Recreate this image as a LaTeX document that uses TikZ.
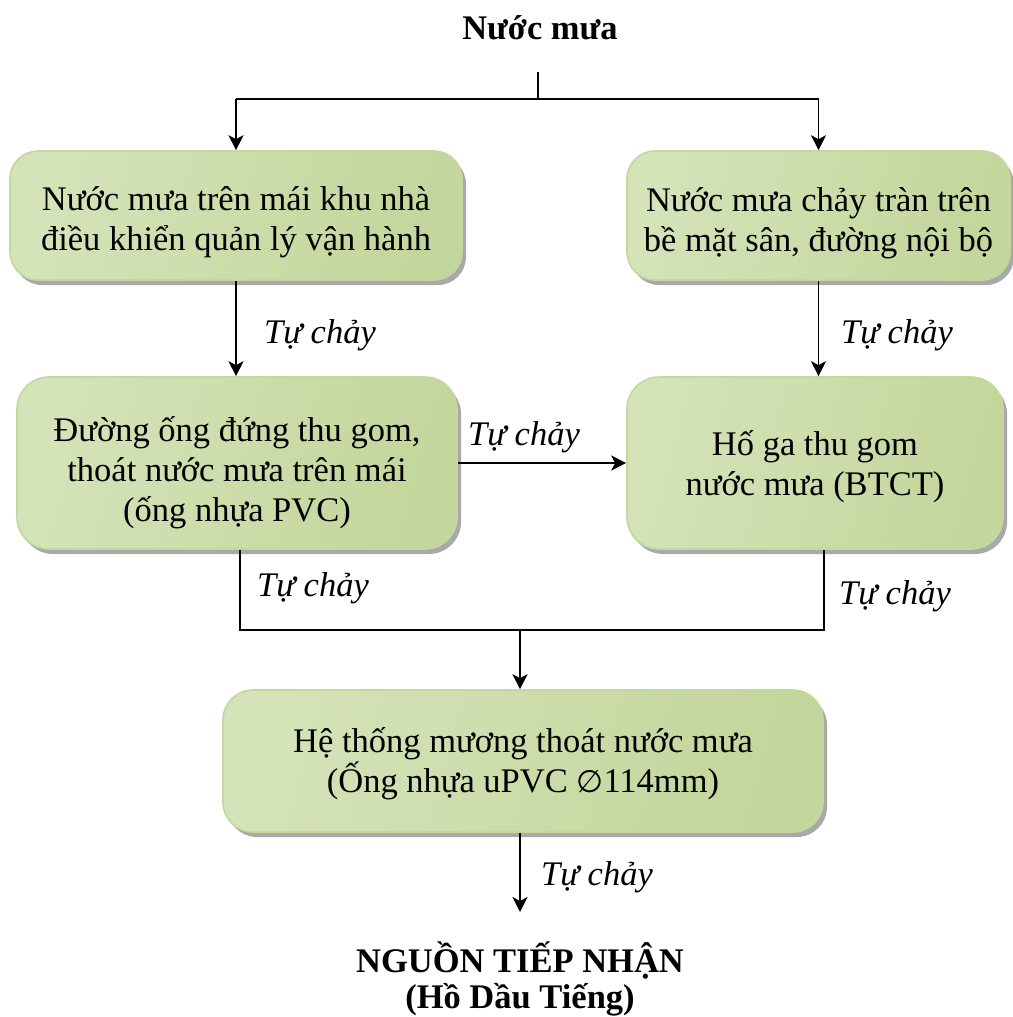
\documentclass[tikz,border=0pt]{standalone}
\usepackage{fontspec}
\setmainfont{Liberation Serif}
\newfontfamily\symbolfont{DejaVu Sans}
\usetikzlibrary{arrows.meta,shadows}

\definecolor{boxedge}{HTML}{C4D79E}
\definecolor{boxside}{HTML}{D5E3B9}
\definecolor{boxmid}{HTML}{EDF3E2}
\definecolor{boxdark}{HTML}{C3D69B}
\definecolor{shadowgray}{HTML}{8C8C8C}

\begin{document}
\begin{tikzpicture}[x=1pt,y=-1pt,
  procbox/.style={rounded corners=28pt, draw=boxedge, line width=1.6pt,
    left color=boxside, middle color=boxmid, right color=boxdark, shading angle=75,
    drop shadow={shadow xshift=4pt, shadow yshift=-5pt, fill=shadowgray, opacity=0.75},
    inner sep=0pt},
  boxtext/.style={align=center, inner sep=0pt, font=\fontsize{34.5}{40}\selectfont},
  flowlabel/.style={font=\fontsize{34.5}{40}\selectfont\itshape, inner sep=0pt},
  heading/.style={font=\fontsize{34.5}{36}\selectfont\bfseries, align=center, inner sep=0pt},
  wire/.style={line width=1.8pt, draw=black},
  arr/.style={wire, -{Stealth[length=15pt, width=15pt, inset=4pt]}}]

\useasboundingbox (0,0) rectangle (1012,1017);

% source
\node[heading] (title) at (540,28) {Nước mưa};
\coordinate (split) at (538,99);

% roof and yard runoff
\node[procbox, minimum width=452pt, minimum height=129pt] (roof) at (236,215.5) {};
\node[boxtext] (rooftext) at ([yshift=-7pt]roof.center)
  {Nước mưa trên mái khu nhà\\điều khiển quản lý vận hành};
\node[procbox, minimum width=383pt, minimum height=129pt] (yard) at (818.5,215.5) {};
\node[boxtext] (yardtext) at ([yshift=-8pt]yard.center)
  {Nước mưa chảy tràn trên\\bề mặt sân, đường nội bộ};

% collection
\node[procbox, rounded corners=32pt, minimum width=440pt, minimum height=172pt] (pipe) at (237,463) {};
\node[boxtext] (pipetext) at ([yshift=-10pt]pipe.center)
  {Đường ống đứng thu gom,\\thoát nước mưa trên mái\\(ống nhựa PVC)};
\node[procbox, rounded corners=32pt, minimum width=376pt, minimum height=172pt] (pit) at (815,463) {};
\node[boxtext] (pittext) at ([yshift=-4pt]pit.center)
  {Hố ga thu gom\\nước mưa (BTCT)};

% drainage
\node[procbox, rounded corners=30pt, minimum width=600pt, minimum height=142pt] (drain) at (523,761) {};
\node[boxtext] (draintext) at ([yshift=-3pt]drain.center)
  {Hệ thống mương thoát nước mưa\\(Ống nhựa uPVC {\symbolfont\fontsize{31}{40}\selectfont ∅}114mm)};

% receiving water
\node[heading] (sink) at (520,979) {NGUỒN TIẾP NHẬN\\(Hồ Dầu Tiếng)};

\coordinate (merge) at (520,630);
\coordinate (outlet) at (520,912);

% split of the rainwater
\draw[wire] ([yshift=-32pt]title.south -| split) -- (split);
\draw[wire] (roof.north |- split) -- (yard.north |- split);
\draw[arr] (roof.north |- split) -- (roof.north);
\draw[arr] (yard.north |- split) -- (yard.north);

% gravity flows
\draw[arr] (roof.south) -- (roof.south |- pipe.north);
\draw[arr] (yard.south) -- (yard.south |- pit.north);
\draw[arr] (pipe.east) -- (pipe.east -| pit.west);
\draw[wire] ([xshift=3pt]pipe.south) -- ([xshift=3pt]pipe.south |- merge)
  -- ([xshift=9pt]pit.south |- merge) -- ([xshift=9pt]pit.south);
\draw[arr] (merge) -- (merge |- drain.north);
\draw[arr] (drain.south -| outlet) -- (outlet);

% flow labels
\node[flowlabel] (l1) at (320,335) {Tự chảy};
\node[flowlabel] (l2) at (897,335) {Tự chảy};
\node[flowlabel] (l3) at (524,437) {Tự chảy};
\node[flowlabel] (l4) at (313,588) {Tự chảy};
\node[flowlabel] (l5) at (895,596) {Tự chảy};
\node[flowlabel] (l6) at (597,877) {Tự chảy};
\end{tikzpicture}
\end{document}
